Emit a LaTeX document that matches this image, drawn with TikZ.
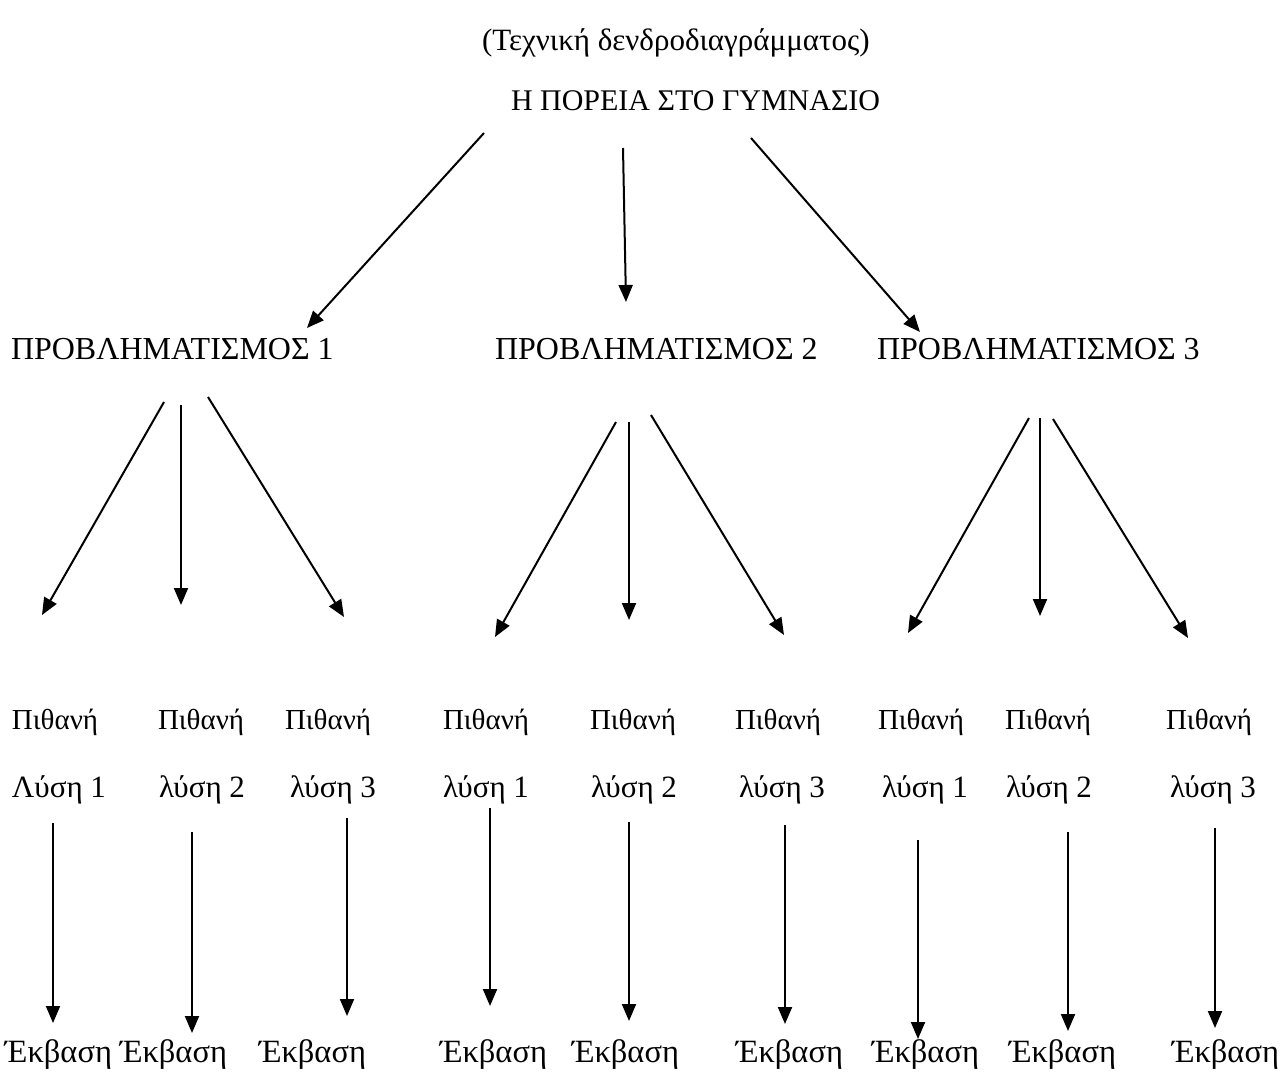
\documentclass[tikz,border=0pt]{standalone}
\usepackage{fontspec}
\setmainfont{Liberation Serif}
\usetikzlibrary{arrows.meta}
\begin{document}
\begin{tikzpicture}[x=1pt,y=-1pt,
  lbl/.style={anchor=base west,inner sep=0pt,outer sep=0pt,font=\fontsize{29}{32}\selectfont},
  sol/.style={lbl,font=\fontsize{31}{34}\selectfont},
  res/.style={lbl,font=\fontsize{32.5}{36}\selectfont},
  conn/.style={line width=2pt,-{Triangle[length=17pt,width=14pt]}}]
\useasboundingbox[fill=white] (0,0) rectangle (1288,1079);
% texts
\node[lbl,font=\fontsize{31}{34}\selectfont] (title) at (482,50) {(Τεχνική δενδροδιαγράμματος)};
\node[lbl,font=\fontsize{30}{34}\selectfont] (root) at (511,110) {Η ΠΟΡΕΙΑ ΣΤΟ ΓΥΜΝΑΣΙΟ};
\node[lbl,font=\fontsize{32}{34}\selectfont] (p1) at (11,359) {ΠΡΟΒΛΗΜΑΤΙΣΜΟΣ 1};
\node[lbl,font=\fontsize{32}{34}\selectfont] (p2) at (495,359) {ΠΡΟΒΛΗΜΑΤΙΣΜΟΣ 2};
\node[lbl,font=\fontsize{32}{34}\selectfont] (p3) at (877,359) {ΠΡΟΒΛΗΜΑΤΙΣΜΟΣ 3};
\foreach \n/\x in {a1/12,a2/158,a3/285,b1/443,b2/590,b3/735,c1/878,c2/1005,c3/1166}
  \node[lbl] (pi\n) at (\x,729) {Πιθανή};
\node[sol] (la1) at (12,797) {Λύση 1};
\node[sol] (la2) at (159,797) {λύση 2};
\node[sol] (la3) at (290,797) {λύση 3};
\node[sol] (lb1) at (443,797) {λύση 1};
\node[sol] (lb2) at (591,797) {λύση 2};
\node[sol] (lb3) at (739,797) {λύση 3};
\node[sol] (lc1) at (882,797) {λύση 1};
\node[sol] (lc2) at (1006,797) {λύση 2};
\node[sol] (lc3) at (1170,797) {λύση 3};
\foreach \n/\x in {a1/5,a2/120,a3/259,b1/440,b2/572,b3/736,c1/872,c2/1009,c3/1172}
  \node[res] (ek\n) at (\x,1062) {Έκβαση};
% connector end points
\coordinate (r1s) at (484,133); \coordinate (r1e) at (307,328);
\coordinate (r2s) at (623,148); \coordinate (r2e) at (626,302);
\coordinate (r3s) at (751,138); \coordinate (r3e) at (920,332);
\coordinate (a1s) at (164,402); \coordinate (a1e) at (42,615);
\coordinate (a2s) at (181,405); \coordinate (a2e) at (181,605);
\coordinate (a3s) at (208,397); \coordinate (a3e) at (344,617);
\coordinate (b1s) at (616,422); \coordinate (b1e) at (495,637);
\coordinate (b2s) at (629,422); \coordinate (b2e) at (629,620);
\coordinate (b3s) at (651,415); \coordinate (b3e) at (784,635);
\coordinate (c1s) at (1029,418); \coordinate (c1e) at (908,633);
\coordinate (c2s) at (1040,418); \coordinate (c2e) at (1040,616);
\coordinate (c3s) at (1053,419); \coordinate (c3e) at (1188,638);
\coordinate (da1s) at (53,823); \coordinate (da1e) at (53,1023);
\coordinate (da2s) at (192,832); \coordinate (da2e) at (192,1033);
\coordinate (da3s) at (347,818); \coordinate (da3e) at (347,1016);
\coordinate (db1s) at (490,808); \coordinate (db1e) at (490,1006);
\coordinate (db2s) at (629,822); \coordinate (db2e) at (629,1021);
\coordinate (db3s) at (785,825); \coordinate (db3e) at (785,1024);
\coordinate (dc1s) at (918,840); \coordinate (dc1e) at (918,1039);
\coordinate (dc2s) at (1068,832); \coordinate (dc2e) at (1068,1031);
\coordinate (dc3s) at (1215,828); \coordinate (dc3e) at (1215,1028);
\foreach \c in {r1,r2,r3,a1,a2,a3,b1,b2,b3,c1,c2,c3,da1,da2,da3,db1,db2,db3,dc1,dc2,dc3}
  \draw[conn] (\c s) -- (\c e);
\end{tikzpicture}
\end{document}
